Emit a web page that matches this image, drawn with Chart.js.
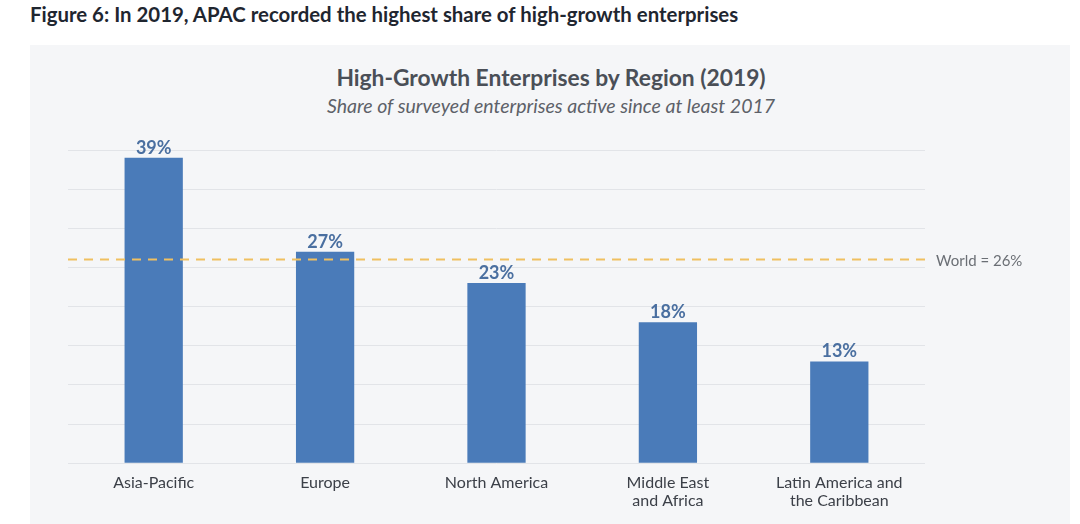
<!DOCTYPE html>
<html><head><meta charset="utf-8">
<script src="https://cdn.jsdelivr.net/npm/chart.js@4"></script>
<style>
body{margin:0;width:1080px;height:524px;background:#fff;position:relative;overflow:hidden;font-family:Lato,sans-serif;}
#fig{position:absolute;left:30px;top:2px;font-size:20.4px;font-weight:700;color:#1f2630;}
#panel{position:absolute;left:30px;top:45px;width:1040px;height:479px;background:#f5f6f8;}
#t{position:absolute;left:0;width:1102px;top:63px;text-align:center;font-size:22.8px;font-weight:700;color:#4a4f57;}
#s{position:absolute;left:0;width:1102px;top:94px;text-align:center;font-size:19.5px;font-style:italic;color:#5d6168;}
#c{position:absolute;left:0;top:0;}
</style></head><body>
<div id="fig">Figure 6: In 2019, APAC recorded the highest share of high-growth enterprises</div>
<div id="panel"></div>
<div id="t">High-Growth Enterprises by Region (2019)</div>
<div id="s">Share of surveyed enterprises active since at least 2017</div>
<canvas id="c" width="1080" height="524"></canvas>
<script>
const categories=['Asia-Pacific','Europe','North America',['Middle East','and Africa'],['Latin America and','the Caribbean']];
const values=[39,27,23,18,13];
const worldValue=26;
const worldLabel='World = 26%';
const overlay={id:'overlay',afterDatasetsDraw(ch){
 const ctx=ch.ctx,y=ch.scales.y,meta=ch.getDatasetMeta(0);
 ctx.save();
 ctx.font='bold 18px Lato';ctx.fillStyle='#4a6fa0';ctx.textAlign='center';ctx.textBaseline='bottom';
 meta.data.forEach((b,i)=>ctx.fillText(values[i]+'%',b.x,b.y-1));
 const wy=y.getPixelForValue(worldValue);
 ctx.strokeStyle='#f0c060';ctx.lineWidth=2;ctx.setLineDash([9,7]);
 ctx.beginPath();ctx.moveTo(ch.chartArea.left,wy);ctx.lineTo(ch.chartArea.right,wy);ctx.stroke();
 ctx.setLineDash([]);ctx.font='15px Lato';ctx.fillStyle='#6b6f75';ctx.textAlign='left';ctx.textBaseline='middle';
 ctx.fillText(worldLabel,ch.chartArea.right+11,wy+2);
 ctx.restore();}};
new Chart(document.getElementById('c'),{type:'bar',
 data:{labels:categories,datasets:[{data:values,backgroundColor:'#4a7bb9',barPercentage:0.34,categoryPercentage:1}]},
 options:{responsive:false,animation:false,devicePixelRatio:1,
  layout:{padding:{left:68,right:155,top:150,bottom:12}},
  plugins:{legend:{display:false},tooltip:{enabled:false}},
  scales:{
   x:{grid:{display:false},border:{display:false},ticks:{font:{family:'Lato',size:16,lineHeight:1.15},color:'#3c4048',padding:2,maxRotation:0}},
   y:{min:0,max:40,ticks:{display:false,stepSize:5},border:{display:false},grid:{color:'#e2e4e8',drawTicks:false}}
  }},plugins:[overlay]});
</script>
</body></html>
